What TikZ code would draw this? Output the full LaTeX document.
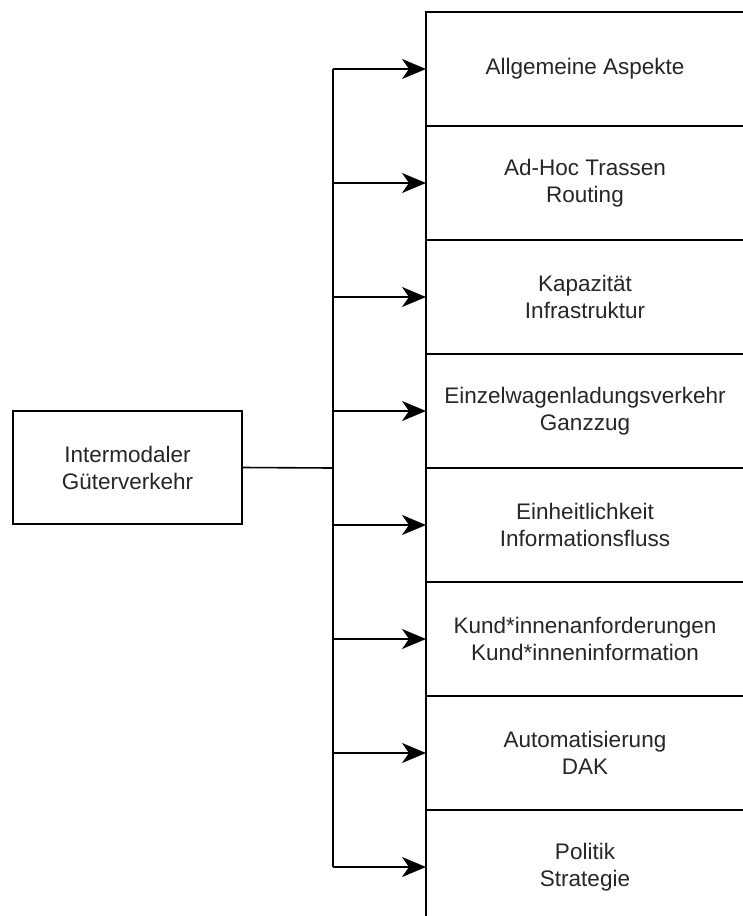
\documentclass[tikz,border=0pt]{standalone}
\usepackage{fontspec}
\setmainfont{Liberation Sans}
\usetikzlibrary{arrows.meta,positioning}

\begin{document}
\begin{tikzpicture}[x=1pt,y=-1pt,
  every node/.style={font=\fontsize{22.5}{27}\selectfont, align=center, text=black!85},
  topic/.style={draw, line width=1.6pt, minimum width=318pt, minimum height=114pt,
    outer sep=0pt, inner sep=0pt, anchor=north west},
  root/.style={draw, line width=1.6pt, minimum width=229pt, minimum height=113pt,
    outer sep=0pt, inner sep=0pt},
  link/.style={line width=1.6pt},
  feed/.style={line width=1.6pt, -{Stealth[length=24pt,width=20pt,inset=7pt]}}]
\useasboundingbox (0,0) rectangle (743,916);
\node[root] (src) at (127.5,467.5) {Intermodaler\\Güterverkehr};
\node[topic] (a1) at (426,12) {Allgemeine Aspekte};
\node[topic, below=0pt of a1] (a2) {Ad-Hoc Trassen\\Routing};
\node[topic, below=0pt of a2] (a3) {Kapazität\\Infrastruktur};
\node[topic, below=0pt of a3] (a4) {Einzelwagenladungsverkehr\\Ganzzug};
\node[topic, below=0pt of a4] (a5) {Einheitlichkeit\\Informationsfluss};
\node[topic, below=0pt of a5] (a6) {Kund*innenanforderungen\\Kund*inneninformation};
\node[topic, below=0pt of a6] (a7) {Automatisierung\\DAK};
\node[topic, below=0pt of a7] (a8) {Politik\\Strategie};
\coordinate (bus) at (333,468);
\draw[link] (src.east) -- (bus);
\draw[link] (bus |- a1.west) -- (bus |- a8.west);
\draw[feed] (bus |- a1.west) -- (a1.west);
\draw[feed] (bus |- a2.west) -- (a2.west);
\draw[feed] (bus |- a3.west) -- (a3.west);
\draw[feed] (bus |- a4.west) -- (a4.west);
\draw[feed] (bus |- a5.west) -- (a5.west);
\draw[feed] (bus |- a6.west) -- (a6.west);
\draw[feed] (bus |- a7.west) -- (a7.west);
\draw[feed] (bus |- a8.west) -- (a8.west);
\end{tikzpicture}
\end{document}
